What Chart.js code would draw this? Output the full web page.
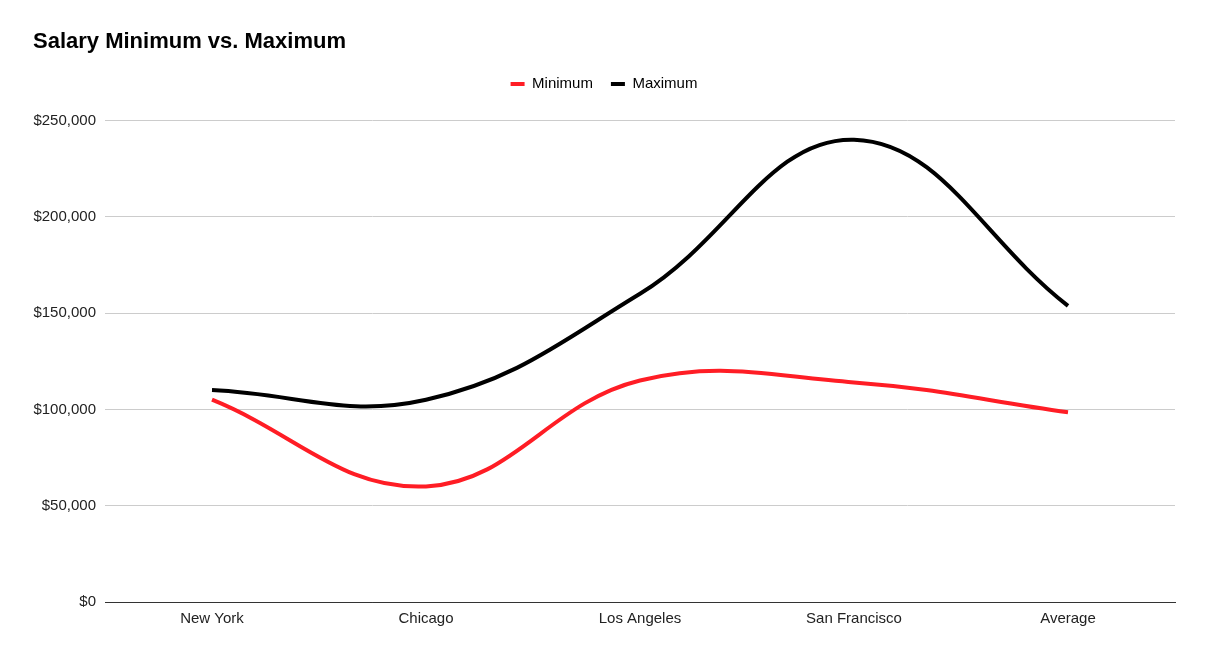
<!DOCTYPE html>
<html>
<head>
<meta charset="utf-8">
<script src="https://cdn.jsdelivr.net/npm/chart.js@4.4.1/dist/chart.umd.min.js"></script>
<style>
  html, body { margin: 0; padding: 0; background: #fff; }
  #wrap { width: 1206px; height: 656px; }
</style>
</head>
<body>
<div id="wrap"><canvas id="chartLine"></canvas></div>
<script>
const cities = ["New York", "Chicago", "Los Angeles", "San Francisco", "Average"];
const minimum = [105000, 60000, 115000, 114000, 98500];
const maximum = [110000, 105000, 160000, 240000, 153750];
const yTicks = [0, 50000, 100000, 150000, 200000, 250000];

Chart.defaults.font.family = "'Liberation Sans', Arial, sans-serif";
Chart.defaults.color = "#222";

// extra room under the legend, like the sheets chart
const legendGap = {
  id: "legendGap",
  afterInit(chart) {
    const fit = chart.legend.fit;
    chart.legend.fit = function () {
      fit.bind(chart.legend)();
      this.height += 19;
    };
  },
};

const dataLine = {
  labels: cities,
  datasets: [
    {
      label: "Minimum",
      data: minimum,
      borderColor: "#ff1d25",
      backgroundColor: "#ff1d25",
      borderWidth: 4,
      pointRadius: 0,
      tension: 0.4,
    },
    {
      label: "Maximum",
      data: maximum,
      borderColor: "#000000",
      backgroundColor: "#000000",
      borderWidth: 4,
      pointRadius: 0,
      tension: 0.4,
    },
  ],
};

const configLine = {
  type: "line",
  data: dataLine,
  plugins: [legendGap],
  options: {
    responsive: true,
    maintainAspectRatio: false,
    animation: false,
    layout: { padding: { top: 10, left: 33, right: 31, bottom: 28 } },
    plugins: {
      title: {
        display: true,
        text: "Salary Minimum vs. Maximum",
        align: "start",
        color: "#000",
        font: { size: 22, weight: "bold" },
        padding: { top: 19, bottom: 3 },
      },
      legend: {
        labels: {
          boxWidth: 14,
          boxHeight: 4,
          padding: 18,
          font: { size: 15 },
          generateLabels: (chart) =>
            chart.data.datasets.map((ds, i) => ({
              text: ds.label,
              fillStyle: ds.borderColor,
              strokeStyle: ds.borderColor,
              lineWidth: 0,
              datasetIndex: i,
            })),
        },
      },
      tooltip: { enabled: false },
    },
    scales: {
      x: {
        offset: true,
        grid: { display: false },
        border: { color: "#333", width: 1 },
        ticks: { font: { size: 15 }, padding: 0 },
      },
      y: {
        min: 0,
        max: 250000,
        afterFit: (scale) => { scale.width = 72; },
        afterBuildTicks: (scale) => {
          scale.ticks = yTicks.map((v) => ({ value: v }));
        },
        border: { display: false },
        grid: {
          drawTicks: false,
          color: (ctx) => (ctx.tick && ctx.tick.value === 0 ? "#333" : "#cccccc"),
        },
        ticks: {
          font: { size: 15 },
          padding: 9,
          callback: (v) => "$" + v.toLocaleString("en-US"),
        },
      },
    },
  },
};

var chartLine = new Chart(document.getElementById("chartLine"), configLine);
</script>
</body>
</html>
